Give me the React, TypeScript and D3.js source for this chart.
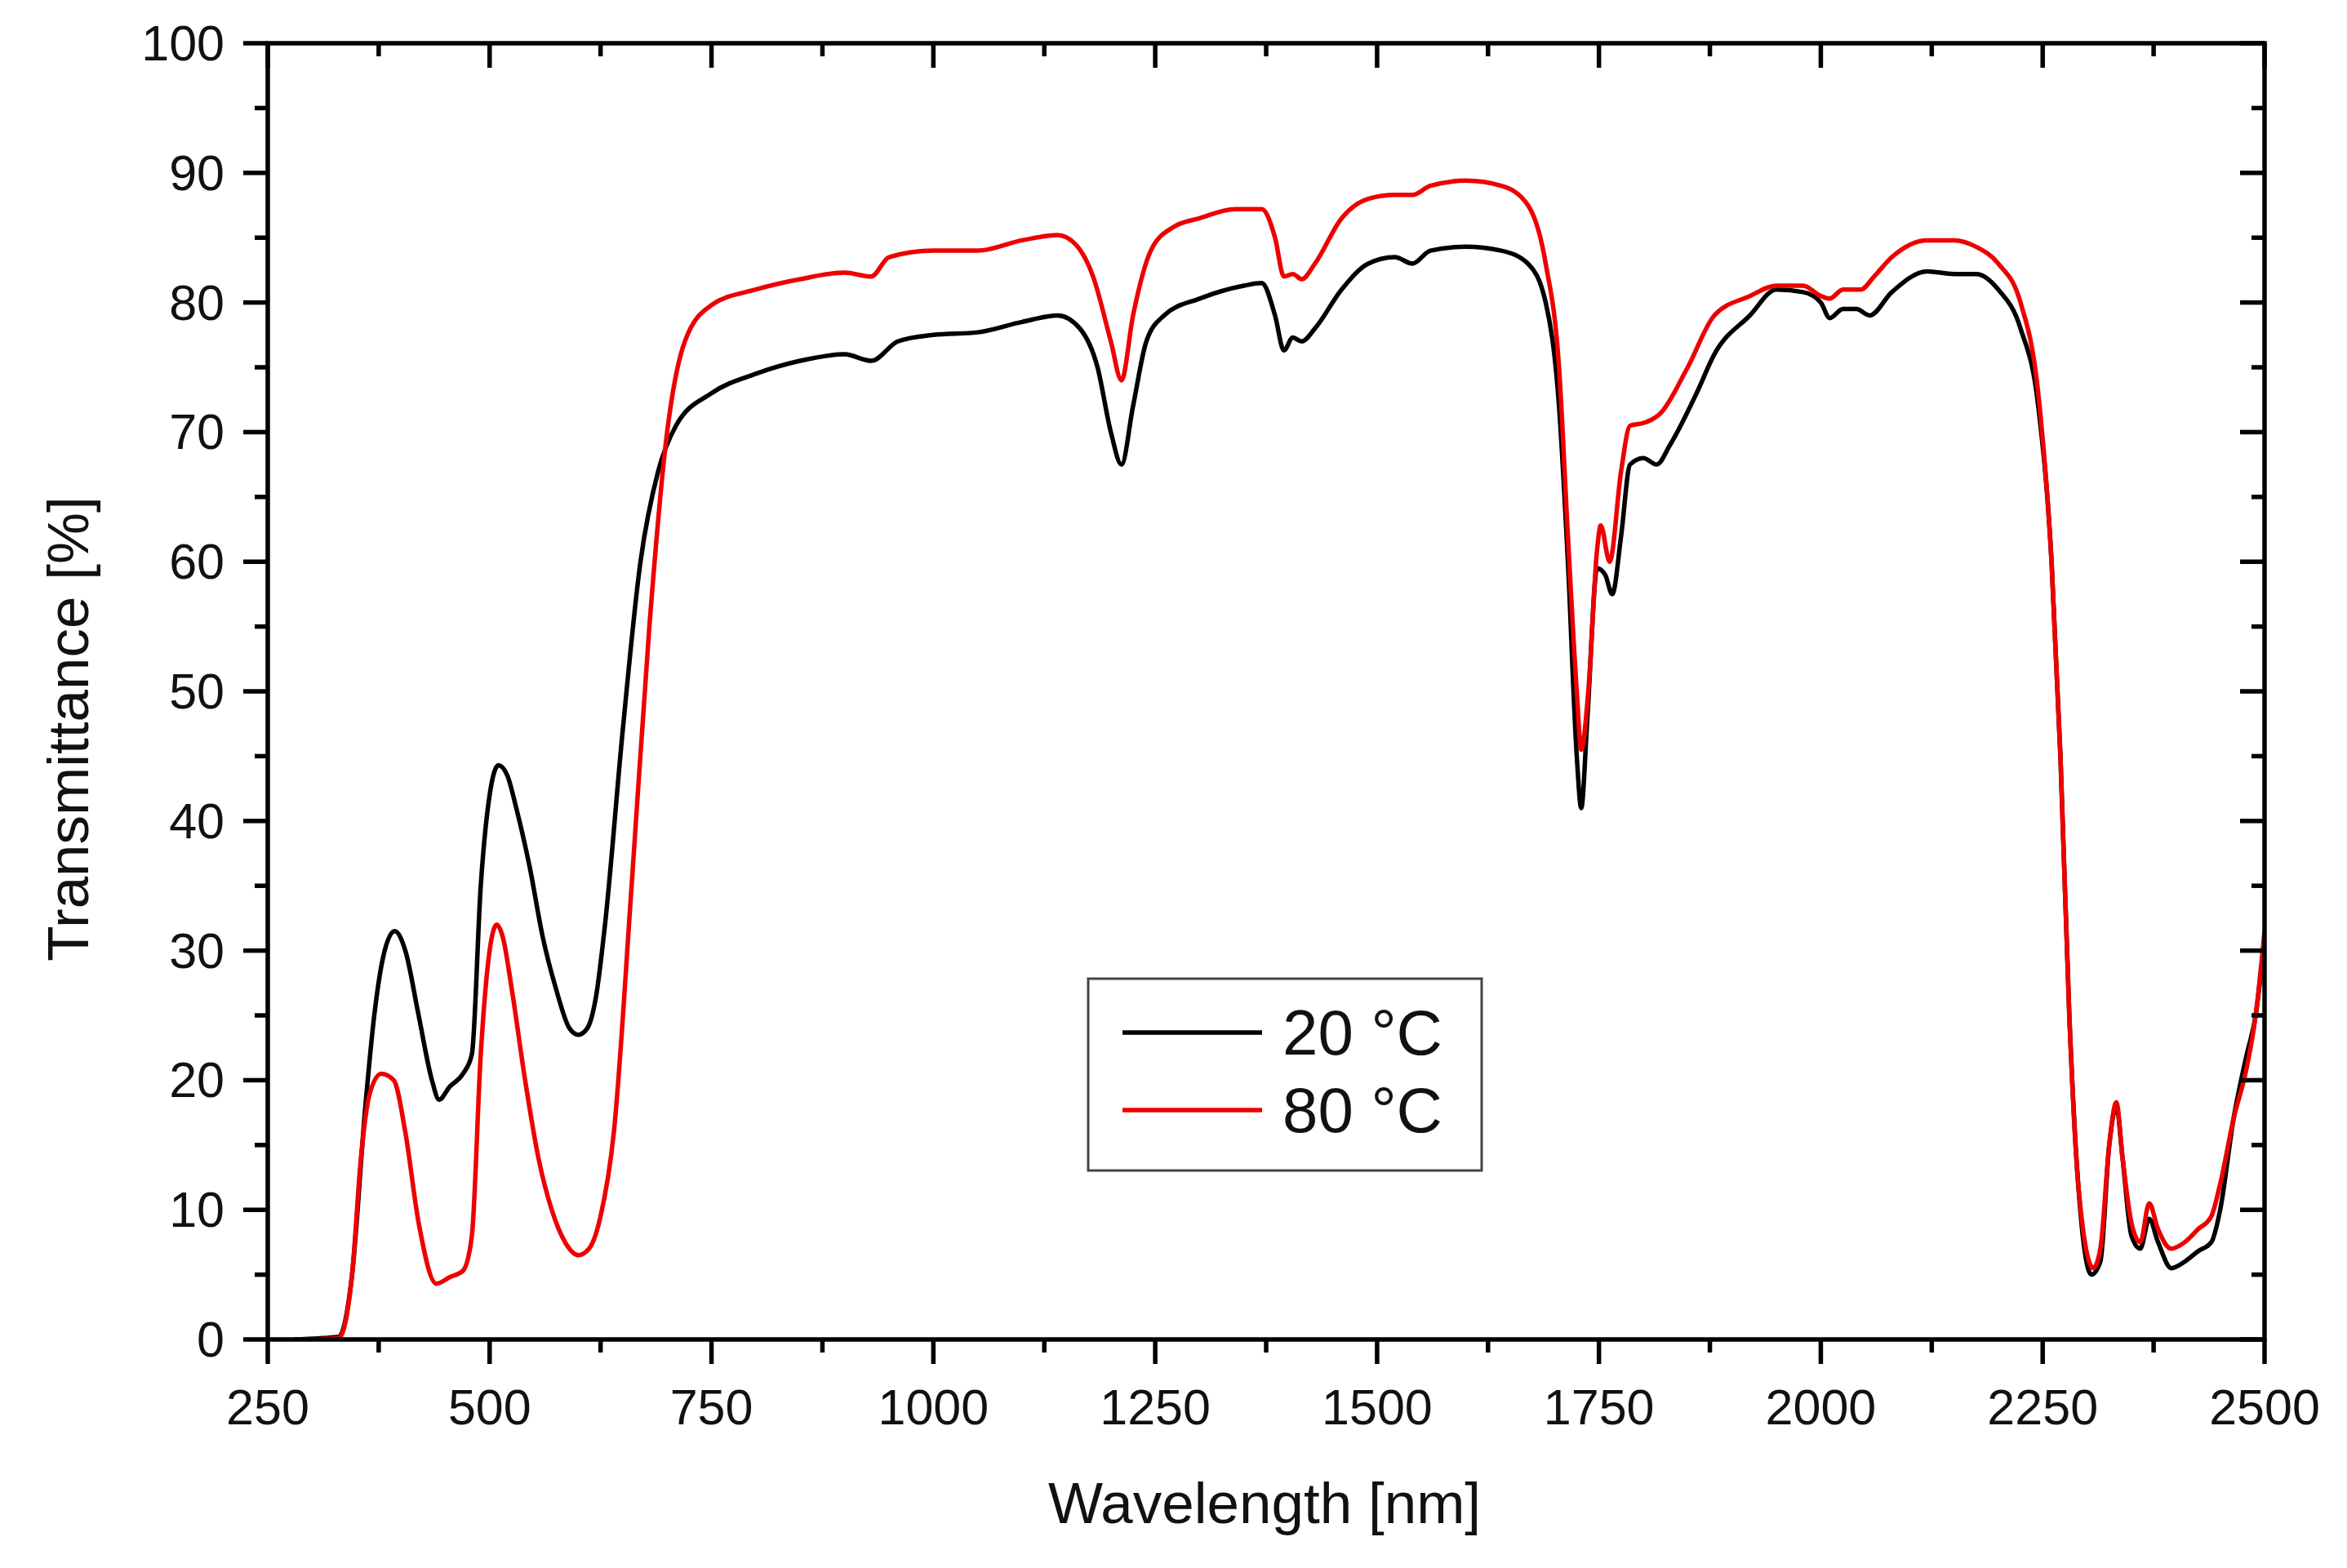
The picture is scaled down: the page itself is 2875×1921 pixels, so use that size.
import React from "react";
import * as d3 from "d3";

// wavelength [nm] / transmittance [%]
const wl20 = [280, 330, 345, 360, 370, 380, 393, 405, 420, 435, 443, 455, 470, 480, 490, 500, 510, 520, 530, 545, 560, 575, 590, 600, 610, 620, 630, 650, 670, 690, 710, 750, 800, 850, 900, 930, 960, 1000, 1050, 1100, 1140, 1165, 1185, 1200, 1212, 1225, 1240, 1260, 1300, 1350, 1370, 1385, 1395, 1405, 1415, 1430, 1460, 1490, 1520, 1540, 1560, 1600, 1640, 1670, 1690, 1705, 1715, 1725, 1730, 1737, 1748, 1757, 1765, 1775, 1785, 1800, 1815, 1830, 1860, 1880, 1920, 1950, 1980, 2000, 2010, 2025, 2040, 2055, 2080, 2120, 2150, 2175, 2200, 2225, 2245, 2260, 2270, 2280, 2290, 2305, 2315, 2325, 2333, 2340, 2350, 2360, 2370, 2380, 2395, 2410, 2425, 2440, 2450, 2465, 2480, 2490, 2500];
const t20 = [0, 0.2, 5, 18, 25, 29.5, 31.5, 30, 25, 20, 18.5, 19.5, 20.5, 22, 35, 42, 44.3, 43.5, 41, 36.5, 31, 27, 24, 23.5, 24, 26.5, 32, 47, 60, 67, 70.5, 73, 74.5, 75.5, 76, 75.5, 77, 77.5, 77.7, 78.5, 79, 78, 75, 70, 67.5, 72, 77, 79, 80.3, 81.3, 81.5, 79, 76.3, 77.3, 77, 78, 81, 83, 83.5, 83, 84, 84.3, 84, 83, 80, 72, 60, 45, 41, 48, 59.5, 59, 57.5, 62, 67.5, 68, 67.5, 69, 73, 76, 79, 81, 80.8, 80, 78.8, 79.5, 79.5, 79, 80.8, 82.4, 82.2, 82.2, 81, 78, 72, 60, 45, 25, 12, 5, 6, 15, 18, 14, 8, 7, 9.3, 7.5, 5.5, 6, 6.8, 7.5, 10, 17, 22, 25, 31];

const wl80 = [280, 330, 345, 355, 365, 378, 392, 405, 420, 440, 455, 470, 480, 490, 500, 508, 515, 525, 540, 555, 570, 585, 600, 612, 625, 640, 660, 680, 700, 720, 750, 800, 850, 900, 930, 950, 1000, 1050, 1100, 1140, 1160, 1180, 1200, 1212, 1225, 1245, 1270, 1300, 1340, 1370, 1385, 1395, 1405, 1415, 1430, 1460, 1490, 1520, 1540, 1560, 1600, 1640, 1670, 1690, 1705, 1715, 1725, 1730, 1738, 1748, 1752, 1762, 1775, 1785, 1800, 1820, 1850, 1880, 1920, 1950, 1980, 2000, 2010, 2025, 2045, 2060, 2080, 2120, 2150, 2175, 2200, 2225, 2245, 2260, 2270, 2280, 2290, 2307, 2315, 2325, 2333, 2340, 2350, 2360, 2370, 2380, 2395, 2410, 2425, 2440, 2450, 2465, 2480, 2490, 2500];
const t80 = [0, 0.1, 5, 14, 19, 20.5, 20, 16, 9, 4.3, 4.8, 5.3, 8, 22, 30, 32, 31, 27, 20, 14, 10, 7.5, 6.5, 7, 9.5, 16, 35, 55, 70, 77, 79.8, 81, 81.8, 82.3, 82, 83.5, 84, 84, 84.8, 85.2, 84.5, 82, 77, 74, 79, 84, 85.8, 86.5, 87.2, 87.2, 85, 82, 82.2, 81.8, 83, 86.5, 88, 88.3, 88.3, 89, 89.4, 89, 87.5, 83, 75, 62, 50, 45.5, 50, 61, 62.8, 60, 67, 70.5, 70.7, 71.5, 75, 79, 80.5, 81.3, 81.3, 80.5, 80.3, 81, 81, 82, 83.5, 84.8, 84.8, 84.3, 83, 80, 73, 60, 45, 25, 12, 5.5, 7, 15, 18.3, 14, 9, 7.5, 10.5, 8.5, 7, 7.5, 8.5, 9.5, 12, 17, 21, 25, 31.5];

const xTicks = [250, 500, 750, 1000, 1250, 1500, 1750, 2000, 2250, 2500];
const yTicks = [0, 10, 20, 30, 40, 50, 60, 70, 80, 90, 100];
const seriesNames = ["20 °C", "80 °C"];
const seriesColors = ["#000000", "#ee0000"];

const W = 2875;
const H = 1921;
const m = { left: 328, right: 2774, top: 53, bottom: 1641 };
const font = "'Liberation Sans', Arial, sans-serif";

const App: React.FC = () => {
  const x = d3.scaleLinear().domain([250, 2500]).range([m.left, m.right]);
  const y = d3.scaleLinear().domain([0, 100]).range([m.bottom, m.top]);

  const line = d3
    .line<[number, number]>()
    .x((d) => x(d[0]))
    .y((d) => y(d[1]))
    .curve(d3.curveMonotoneX);

  const series = [
    d3.zip(wl20, t20) as [number, number][],
    d3.zip(wl80, t80) as [number, number][],
  ];

  const xMinor = d3.range(375, 2500, 250);
  const yMinor = d3.range(5, 100, 10);
  const major = 30;
  const minor = 16;
  const axisW = 5.5;

  return (
    <svg
      width={W}
      height={H}
      style={{ position: "absolute", left: 0, top: 0, background: "#fff" }}
    >
      <rect width={W} height={H} fill="#fff" />
      <defs>
        <clipPath id="plot">
          <rect x={m.left} y={m.top - 10} width={m.right - m.left} height={m.bottom - m.top + 10} />
        </clipPath>
      </defs>
      <g fill="none" strokeLinejoin="round" clipPath="url(#plot)">
        {series.map((s, i) => (
          <path key={i} d={line(s) || ""} stroke={seriesColors[i]} strokeWidth={5.5} />
        ))}
      </g>

      {/* frame */}
      <rect
        x={m.left}
        y={m.top}
        width={m.right - m.left}
        height={m.bottom - m.top}
        fill="none"
        stroke="#000"
        strokeWidth={axisW}
      />

      {/* ticks */}
      <g stroke="#000" strokeWidth={axisW}>
        {xTicks.map((t) => (
          <g key={"x" + t}>
            <line x1={x(t)} x2={x(t)} y1={m.bottom} y2={m.bottom + major} />
            <line x1={x(t)} x2={x(t)} y1={m.top} y2={m.top + major} />
          </g>
        ))}
        {xMinor.map((t) => (
          <g key={"xm" + t}>
            <line x1={x(t)} x2={x(t)} y1={m.bottom} y2={m.bottom + minor} />
            <line x1={x(t)} x2={x(t)} y1={m.top} y2={m.top + minor} />
          </g>
        ))}
        {yTicks.map((t) => (
          <g key={"y" + t}>
            <line x1={m.left - major} x2={m.left} y1={y(t)} y2={y(t)} />
            <line x1={m.right - major} x2={m.right} y1={y(t)} y2={y(t)} />
          </g>
        ))}
        {yMinor.map((t) => (
          <g key={"ym" + t}>
            <line x1={m.left - minor} x2={m.left} y1={y(t)} y2={y(t)} />
            <line x1={m.right - minor} x2={m.right} y1={y(t)} y2={y(t)} />
          </g>
        ))}
      </g>

      {/* tick labels */}
      <g fontFamily={font} fontSize={61} fill="#111">
        {xTicks.map((t) => (
          <text key={"xl" + t} x={x(t)} y={1745} textAnchor="middle">
            {t}
          </text>
        ))}
        {yTicks.map((t) => (
          <text key={"yl" + t} x={275} y={y(t)} textAnchor="end" dominantBaseline="central">
            {t}
          </text>
        ))}
      </g>

      {/* axis titles */}
      <text x={1549} y={1866} textAnchor="middle" fontFamily={font} fontSize={71} fill="#111">
        Wavelength [nm]
      </text>
      <text
        transform={`translate(83, 893) rotate(-90)`}
        textAnchor="middle"
        dominantBaseline="central"
        fontFamily={font}
        fontSize={71}
        fill="#111"
      >
        Transmittance [%]
      </text>

      {/* legend */}
      <g>
        <rect x={1333} y={1199} width={482} height={235} fill="#fff" stroke="#444" strokeWidth={3} />
        {seriesNames.map((n, i) => (
          <g key={n}>
            <line x1={1375} x2={1546} y1={1265 + i * 95} y2={1265 + i * 95} stroke={seriesColors[i]} strokeWidth={5.5} />
            <text x={1571} y={1265 + i * 95} dominantBaseline="central" fontFamily={font} fontSize={78} fill="#111">
              {n}
            </text>
          </g>
        ))}
      </g>
    </svg>
  );
};

export default App;
